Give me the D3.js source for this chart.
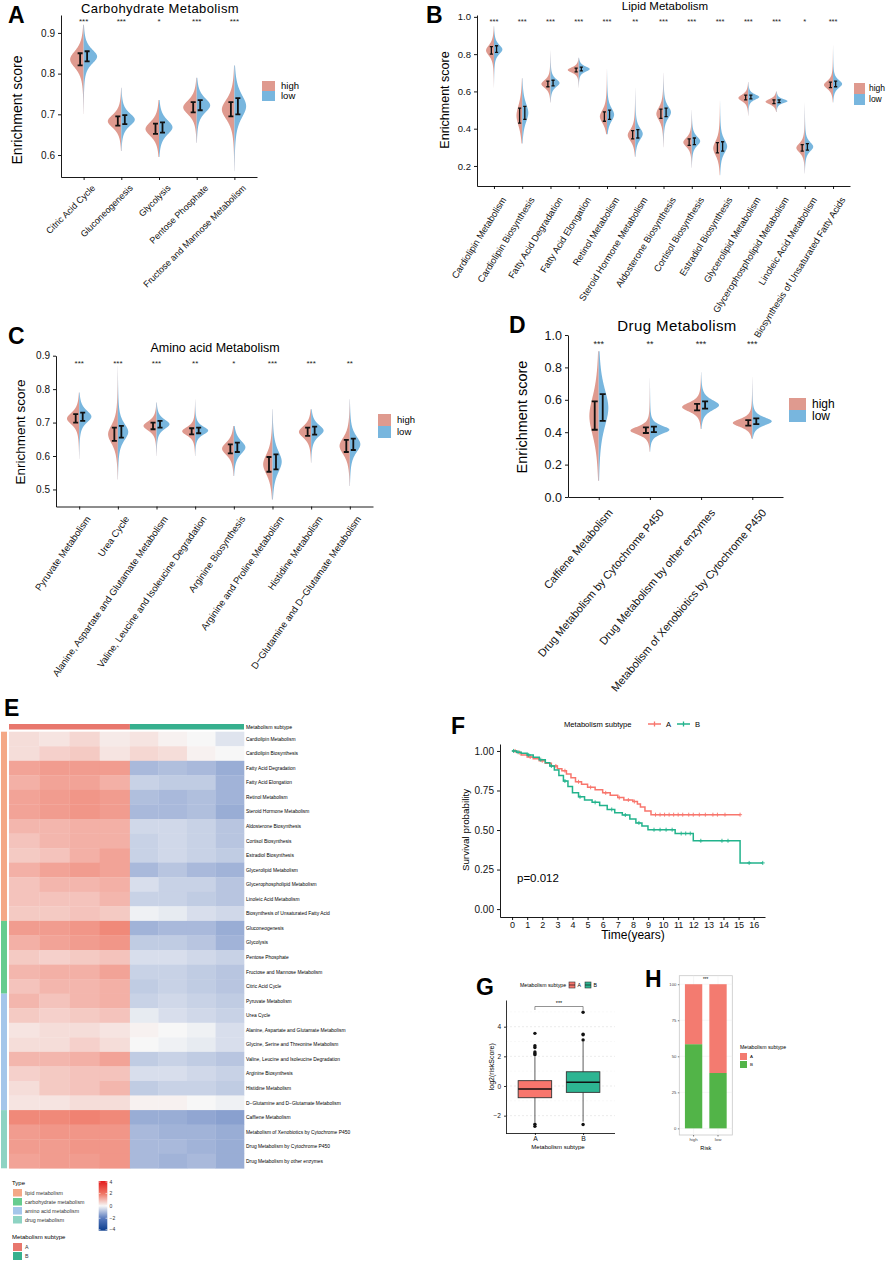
<!DOCTYPE html>
<html>
<head>
<meta charset="utf-8">
<script src="https://cdn.jsdelivr.net/npm/d3@7"></script>
<style>
  body { margin: 0; background: #fff; }
  svg { display: block; }
  text { font-family: "Liberation Sans", Arial, sans-serif; }
</style>
</head>
<body>
<div id="wrapper"></div>
<script>
// ---------- data: violin panels (A-D) ----------
// bars are [lower, middle, upper] of the error bar, tails are [min, max] of the violin
const carbCategories = ['Citric Acid Cycle', 'Gluconeogenesis', 'Glycolysis', 'Pentose Phosphate', 'Fructose and Mannose Metabolism']
const carbSig = ['***', '***', '*', '***', '***']
const carbHigh = [[0.82, 0.835, 0.85], [0.672, 0.683, 0.695], [0.652, 0.664, 0.677], [0.705, 0.717, 0.73], [0.695, 0.712, 0.73]]
const carbLow = [[0.83, 0.842, 0.855], [0.676, 0.687, 0.698], [0.655, 0.668, 0.68], [0.71, 0.722, 0.735], [0.70, 0.72, 0.74]]
const carbTails = [[0.70, 0.92], [0.61, 0.765], [0.595, 0.735], [0.63, 0.79], [0.56, 0.82]]

const lipidCategories = ['Cardiolipin Metabolism', 'Cardiolipin Biosynthesis', 'Fatty Acid Degradation', 'Fatty Acid Elongation',
  'Retinol Metabolism', 'Steroid Hormone Metabolism', 'Aldosterone Biosynthesis', 'Cortisol Biosynthesis',
  'Estradiol Biosynthesis', 'Glycerolipid Metabolism', 'Glycerophospholipid Metabolism', 'Linoleic Acid Metabolism',
  'Biosynthesis of Unsaturated Fatty Acids']
const lipidSig = ['***', '***', '***', '***', '***', '**', '***', '***', '***', '***', '***', '*', '***']
const lipidHigh = [[0.80, 0.82, 0.84], [0.43, 0.47, 0.51], [0.625, 0.64, 0.655], [0.705, 0.715, 0.725], [0.44, 0.465, 0.49],
  [0.345, 0.365, 0.39], [0.455, 0.48, 0.505], [0.31, 0.327, 0.345], [0.27, 0.295, 0.325], [0.555, 0.565, 0.58],
  [0.535, 0.545, 0.555], [0.28, 0.297, 0.315], [0.62, 0.635, 0.65]]
const lipidLow = [[0.81, 0.825, 0.845], [0.45, 0.485, 0.52], [0.63, 0.645, 0.66], [0.71, 0.72, 0.73], [0.45, 0.475, 0.50],
  [0.35, 0.372, 0.395], [0.465, 0.488, 0.51], [0.315, 0.333, 0.35], [0.28, 0.305, 0.33], [0.56, 0.57, 0.58],
  [0.54, 0.548, 0.555], [0.285, 0.303, 0.32], [0.625, 0.64, 0.655]]
const lipidTails = [[0.62, 0.95], [0.32, 0.67], [0.54, 0.82], [0.62, 0.78], [0.37, 0.72], [0.25, 0.62], [0.30, 0.70],
  [0.19, 0.50], [0.15, 0.55], [0.47, 0.65], [0.49, 0.60], [0.16, 0.54], [0.54, 0.85]]

const aminoCategories = ['Pyruvate Metabolism', 'Urea Cycle', 'Alanine, Aspartate and Glutamate Metabolism',
  'Valine, Leucine and Isoleucine Degradation', 'Arginine Biosynthesis', 'Arginine and Proline Metabolism',
  'Histidine Metabolism', 'D\u2212Glutamine and D\u2212Glutamate Metabolism']
const aminoSig = ['***', '***', '***', '**', '*', '***', '***', '**']
const aminoHigh = [[0.70, 0.712, 0.725], [0.645, 0.665, 0.685], [0.68, 0.69, 0.70], [0.665, 0.674, 0.683],
  [0.608, 0.622, 0.635], [0.553, 0.575, 0.597], [0.66, 0.672, 0.685], [0.612, 0.63, 0.648]]
const aminoLow = [[0.705, 0.718, 0.73], [0.655, 0.672, 0.69], [0.685, 0.695, 0.705], [0.668, 0.676, 0.685],
  [0.612, 0.626, 0.64], [0.56, 0.583, 0.605], [0.664, 0.676, 0.688], [0.618, 0.635, 0.652]]
const aminoTails = [[0.59, 0.79], [0.53, 0.87], [0.60, 0.76], [0.60, 0.77], [0.54, 0.69], [0.47, 0.74], [0.58, 0.74], [0.51, 0.77]]

const drugCategories = ['Caffiene Metabolism', 'Drug Metabolism by Cytochrome P450', 'Drug Metabolism by other enzymes',
  'Metabolism of Xenobiotics by Cytochrome P450']
const drugSig = ['***', '**', '***', '***']
const drugHigh = [[0.415, 0.50, 0.59], [0.395, 0.41, 0.43], [0.535, 0.555, 0.575], [0.44, 0.457, 0.475]]
const drugLow = [[0.47, 0.55, 0.635], [0.40, 0.415, 0.435], [0.545, 0.567, 0.59], [0.45, 0.467, 0.485]]
const drugTails = [[0.10, 0.90], [0.28, 0.75], [0.42, 0.77], [0.36, 0.75]]

// ---------- data: heatmap (E) ----------
const heatRows = ['Cardiolipin Metabolism', 'Cardiolipin Biosynthesis', 'Fatty Acid Degradation', 'Fatty Acid Elongation',
  'Retinol Metabolism', 'Steroid Hormone Metabolism', 'Aldosterone Biosynthesis', 'Cortisol Biosynthesis',
  'Estradiol Biosynthesis', 'Glycerolipid Metabolism', 'Glycerophospholipid Metabolism', 'Linoleic Acid Metabolism',
  'Biosynthesis of Unsaturated Fatty Acid', 'Gluconeogenesis', 'Glycolysis', 'Pentose Phosphate',
  'Fructose and Mannose Metabolism', 'Citric Acid Cycle', 'Pyruvate Metabolism', 'Urea Cycle',
  'Alanine, Aspartate and Glutamate Metabolism', 'Glycine, Serine and Threonine Metabolism',
  'Valine, Leucine and Isoleucine Degradation', 'Arginine Biosynthesis', 'Histidine Metabolism',
  'D\u2212Glutamine and D\u2212Glutamate Metabolism', 'Caffiene Metabolism', 'Metabolism of Xenobiotics by Cytochrome P450',
  'Drug Metabolism by Cytochrome P450', 'Drug Metabolism by other enzymes']
const heatTypes = ['lipid metabolism', 'carbohydrate metabolism', 'amino acid metabolism', 'drug metabolism']
const heatTypeCounts = [13, 5, 8, 4]
const heatSubtypes = ['A', 'B']
const heatSubtypeSamples = [212, 200]
// four blocks of samples per subtype, A blocks then B blocks
const heatValues = [
  [0.4, 0.3, 0.5, 0.2, 0.3, 0.1, 0.0, -0.3],
  [0.4, 0.6, 0.7, 0.3, 0.5, 0.4, 0.1, 0.0],
  [1.3, 1.4, 1.4, 1.4, -1.0, -0.9, -1.0, -1.2],
  [1.1, 1.3, 1.3, 1.1, -0.6, -0.7, -0.7, -1.1],
  [1.3, 1.4, 1.5, 1.4, -0.9, -1.0, -0.9, -1.1],
  [1.3, 1.4, 1.5, 1.4, -1.0, -1.0, -0.9, -1.2],
  [1.0, 1.0, 1.1, 1.1, -0.5, -0.5, -0.6, -0.8],
  [0.8, 1.0, 1.1, 1.1, -0.6, -0.5, -0.6, -0.8],
  [0.7, 0.8, 1.1, 1.3, -0.6, -0.5, -0.6, -0.7],
  [1.1, 1.3, 1.4, 1.3, -1.0, -0.8, -1.0, -1.1],
  [0.8, 1.0, 1.0, 1.1, -0.4, -0.6, -0.6, -0.8],
  [0.8, 0.8, 0.8, 1.0, -0.6, -0.6, -0.7, -0.8],
  [0.7, 0.7, 0.8, 0.7, -0.1, -0.2, -0.4, -0.5],
  [1.4, 1.4, 1.5, 1.7, -1.1, -1.0, -1.0, -1.2],
  [1.1, 1.3, 1.4, 1.5, -0.7, -0.7, -0.8, -1.1],
  [0.7, 0.6, 0.7, 0.8, -0.4, -0.4, -0.5, -0.6],
  [1.0, 1.1, 1.1, 1.3, -0.6, -0.6, -0.7, -0.8],
  [0.8, 1.0, 1.0, 1.1, -0.7, -0.6, -0.7, -0.8],
  [1.0, 0.8, 1.0, 1.1, -0.6, -0.5, -0.6, -0.7],
  [0.7, 0.6, 0.7, 0.8, -0.2, -0.4, -0.5, -0.6],
  [0.3, 0.4, 0.4, 0.3, 0.1, 0.0, -0.1, -0.4],
  [0.4, 0.4, 0.6, 0.4, 0.0, -0.1, -0.2, -0.4],
  [1.0, 1.0, 1.1, 1.3, -0.7, -0.6, -0.7, -0.8],
  [0.6, 0.7, 0.8, 0.8, -0.4, -0.4, -0.5, -0.6],
  [0.4, 0.7, 0.8, 1.0, -0.7, -0.6, -0.6, -0.7],
  [0.3, 0.3, 0.4, 0.4, 0.1, 0.1, 0.0, -0.1],
  [1.7, 1.7, 1.8, 1.7, -1.2, -1.2, -1.3, -1.4],
  [1.4, 1.5, 1.5, 1.5, -1.0, -1.1, -1.1, -1.2],
  [1.4, 1.4, 1.5, 1.5, -1.0, -1.0, -1.1, -1.2],
  [1.3, 1.4, 1.4, 1.5, -1.0, -1.1, -1.0, -1.2]
]
const heatLegendTicks = [4, 2, 0, -2, -4]

// ---------- data: survival (F) ----------
const survTimesA = [0, 0.3, 0.6, 1.0, 1.4, 1.8, 2.2, 2.6, 3.0, 3.3, 3.6, 3.9, 4.2, 4.6, 5.0, 5.5, 6.0, 6.5, 7.0, 7.4, 8.0, 8.3, 8.5, 8.8, 9.2]
const survA = [1.0, 0.99, 0.975, 0.962, 0.95, 0.938, 0.922, 0.905, 0.888, 0.875, 0.855, 0.83, 0.805, 0.79, 0.77, 0.755, 0.735, 0.72, 0.705, 0.69, 0.68, 0.665, 0.645, 0.62, 0.597]
const survEndA = 15.1
const censorA = [0.2, 0.5, 1.2, 2.0, 2.9, 3.5, 4.4, 5.2, 6.2, 7.1, 7.7, 8.1, 9.5, 9.8, 10.1, 10.4, 10.7, 11.0, 11.3, 11.7, 12.0, 12.4, 12.8, 13.3, 13.6, 14.1, 15.1]
const survTimesB = [0, 0.3, 0.6, 1.0, 1.4, 1.8, 2.2, 2.5, 2.8, 3.1, 3.4, 3.7, 4.0, 4.4, 4.8, 5.3, 5.8, 6.3, 6.8, 7.3, 7.8, 8.2, 8.6, 9.0, 10.8, 12.0, 15.1]
const survB = [1.0, 0.992, 0.985, 0.975, 0.96, 0.945, 0.925, 0.905, 0.88, 0.845, 0.81, 0.775, 0.735, 0.71, 0.69, 0.675, 0.655, 0.63, 0.61, 0.595, 0.57, 0.545, 0.525, 0.502, 0.478, 0.432, 0.292]
const survEndB = 16.6
const censorB = [0.1, 0.4, 1.1, 1.9, 2.6, 3.5, 4.5, 5.5, 6.6, 7.5, 8.4, 9.4, 9.8, 10.2, 10.6, 11.2, 11.5, 11.8, 12.5, 13.9, 14.3, 15.7, 16.6]
const survTicksX = d3.range(0, 17)
const survTicksY = [0, 0.25, 0.5, 0.75, 1.0]

// ---------- data: box plot (G) ----------
const boxGroups = ['A', 'B']
const boxQ1 = [-0.79, -0.43]
const boxMedian = [-0.2, 0.25]
const boxQ3 = [0.36, 0.96]
const boxWhiskerLo = [-2.45, -2.4]
const boxWhiskerHi = [1.95, 2.97]
const boxOutliers = [[3.55, 2.72, 2.6, 2.3, 2.2, 2.1, -2.58, -2.72], [4.97, 3.5, 3.45, 3.1, -2.6]]

// ---------- data: stacked bars (H) ----------
const riskGroups = ['high', 'low']
const riskShareB = [58.4, 38.4]
const riskShareA = [41.6, 61.6]

// ---------- drawing ----------
const HIGH = '#DF9A8F'
const LOW = '#78B6DE'
const SUB_A = '#F8766D'
const SUB_B = '#22B38C'
const NARROW = '"Liberation Sans Narrow", "Liberation Sans", Arial, sans-serif'

const svg = d3.select('#wrapper')
  .append('svg')
    .attr('width', 886)
    .attr('height', 1262)

function panelLetter(letter, x, y) {
  svg.append('text')
    .attr('x', x).attr('y', y)
    .attr('font-size', 23).attr('font-weight', 'bold')
    .text(letter)
}

function styleAxis(sel, size, lw = 0.9) {
  sel.select('.domain').attr('stroke', '#000').attr('stroke-width', lw)
  sel.selectAll('.tick line').attr('stroke', '#000').attr('stroke-width', lw)
  sel.selectAll('.tick text')
    .attr('font-size', size)
    .attr('fill', '#111')
    .attr('font-family', '"Liberation Sans", Arial, sans-serif')
}

function drawViolinPanel(c, categories, sig, highBars, lowBars, tails) {
  const g = svg.append('g')

  const x = d3.scalePoint()
    .domain(categories)
    .range([c.x0, c.x1])
    .padding(0.6)
  const y = d3.scaleLinear()
    .domain(c.domain)
    .range([c.y1, c.y0])

  categories.forEach((cat, i) => {
    const cx = x(cat)
    const [tMin, tMax] = tails[i]
    const halves = [[highBars[i], -1, HIGH], [lowBars[i], 1, LOW]]
    halves.forEach(([bar, side, color]) => {
      const [lo, mid, hi] = bar
      const spread = hi - lo
      const s = spread * 0.8
      const peak = c.wMax * Math.min(1, Math.sqrt(c.ref / spread))
      const halfWidth = v => {
        const z = (v - mid) / s
        const end = v < mid ? tMin : tMax
        const taper = Math.max(0, 1 - Math.abs(v - mid) / Math.abs(end - mid))
        return peak * Math.pow(1 + z * z / 3, -2) + 0.5 * taper
      }
      const samples = d3.range(0, 161).map(k => tMin + (tMax - tMin) * k / 160)
      const area = d3.area()
        .x0(cx)
        .x1(v => cx + side * halfWidth(v))
        .y(v => y(v))
      g.append('path')
        .attr('d', area(samples))
        .attr('fill', color)
    })

    halves.forEach(([bar, side]) => {
      const [lo, , hi] = bar
      const bx = cx + side * c.barOff
      const path = d3.path()
      path.moveTo(bx, y(lo)); path.lineTo(bx, y(hi))
      path.moveTo(bx - c.capW, y(lo)); path.lineTo(bx + c.capW, y(lo))
      path.moveTo(bx - c.capW, y(hi)); path.lineTo(bx + c.capW, y(hi))
      g.append('path')
        .attr('d', path.toString())
        .attr('stroke', '#111')
        .attr('stroke-width', c.barW)
        .attr('fill', 'none')
    })

    g.append('text')
      .attr('x', cx).attr('y', c.sigY)
      .attr('text-anchor', 'middle')
      .attr('font-size', c.sigSize)
      .attr('fill', '#222')
      .text(sig[i])
  })

  const yAxis = g.append('g')
    .attr('transform', `translate(${c.x0},0)`)
    .call(d3.axisLeft(y).tickValues(c.ticks).tickFormat(d3.format('.1f')).tickSize(3).tickSizeOuter(0).tickPadding(3))
  styleAxis(yAxis, c.tickSize)

  const xAxis = g.append('g')
    .attr('transform', `translate(0,${c.y1})`)
    .call(d3.axisBottom(x).tickSize(3).tickSizeOuter(0))
  styleAxis(xAxis, c.labelSize)
  xAxis.selectAll('.tick text')
    .attr('x', 0).attr('y', 0)
    .attr('dy', '0.72em')
    .attr('text-anchor', 'end')
    .attr('transform', `translate(${c.labelDx},${c.labelDy}) rotate(${-c.angle})`)

  g.append('text')
    .attr('transform', `translate(${c.ylabX},${c.ylabY}) rotate(-90)`)
    .attr('text-anchor', 'middle')
    .attr('font-family', NARROW)
    .attr('font-size', c.ylabSize)
    .text('Enrichment score')

  g.append('text')
    .attr('x', c.titleX).attr('y', c.titleY)
    .attr('text-anchor', 'middle')
    .attr('font-size', c.titleSize)
    .attr('letter-spacing', c.titleSpacing || 0)
    .text(c.title)

  const legend = g.append('g').attr('transform', `translate(${c.legX},${c.legY})`)
  ;[['high', HIGH], ['low', LOW]].forEach(([name, color], k) => {
    legend.append('rect')
      .attr('x', 0).attr('y', k * c.legH)
      .attr('width', c.legW).attr('height', c.legH)
      .attr('fill', color)
    legend.append('text')
      .attr('x', c.legW + c.legGap).attr('y', k * c.legH + c.legH / 2)
      .attr('dy', '0.35em')
      .attr('font-size', c.legSize)
      .text(name)
  })

  panelLetter(c.letter, c.letterX, c.letterY)
}

drawViolinPanel({
  x0: 61, x1: 257, y0: 15, y1: 177, domain: [0.546, 0.944], ticks: [0.6, 0.7, 0.8, 0.9], tickSize: 10,
  title: 'Carbohydrate Metabolism', titleX: 160, titleY: 12.5, titleSize: 13, titleSpacing: 0.4,
  sigY: 24, sigSize: 8, angle: 45, labelSize: 9, labelDx: 7, labelDy: 7,
  ylabX: 22, ylabY: 110, ylabSize: 14,
  legX: 262, legY: 81, legW: 13, legH: 10, legSize: 9.5, legGap: 6,
  wMax: 13, ref: 0.03, barOff: 3.5, capW: 2.5, barW: 1.8,
  letter: 'A', letterX: 8, letterY: 23
}, carbCategories, carbSig, carbHigh, carbLow, carbTails)

drawViolinPanel({
  x0: 477, x1: 850, y0: 15, y1: 186, domain: [0.0925, 1.01], ticks: [0.2, 0.4, 0.6, 0.8, 1.0], tickSize: 9.5,
  title: 'Lipid Metabolism', titleX: 665, titleY: 9.5, titleSize: 11.5,
  sigY: 24, sigSize: 7.5, angle: 58, labelSize: 9.3, labelDx: 6.5, labelDy: 10,
  ylabX: 449, ylabY: 100, ylabSize: 12.5,
  legX: 854, legY: 83, legW: 11, legH: 11, legSize: 8.5, legGap: 4,
  wMax: 10.5, ref: 0.02, barOff: 2.6, capW: 1.6, barW: 1.3,
  letter: 'B', letterX: 426, letterY: 23
}, lipidCategories, lipidSig, lipidHigh, lipidLow, lipidTails)

drawViolinPanel({
  x0: 56, x1: 373, y0: 355.7, y1: 506.5, domain: [0.449, 0.9], ticks: [0.5, 0.6, 0.7, 0.8, 0.9], tickSize: 10,
  title: 'Amino acid Metabolism', titleX: 215, titleY: 351.5, titleSize: 12.5,
  sigY: 366, sigSize: 8, angle: 55, labelSize: 9.5, labelDx: 5.7, labelDy: 8.5,
  ylabX: 25, ylabY: 432, ylabSize: 13.5,
  legX: 378, legY: 414, legW: 13, legH: 12, legSize: 9.5, legGap: 6,
  wMax: 12.5, ref: 0.022, barOff: 3.5, capW: 2.5, barW: 1.8,
  letter: 'C', letterX: 8, letterY: 344
}, aminoCategories, aminoSig, aminoHigh, aminoLow, aminoTails)

drawViolinPanel({
  x0: 568, x1: 783, y0: 335, y1: 497, domain: [0, 1.0], ticks: [0, 0.2, 0.4, 0.6, 0.8, 1.0], tickSize: 12.5,
  title: 'Drug Metabolism', titleX: 677, titleY: 331, titleSize: 15, titleSpacing: 0.4,
  sigY: 347, sigSize: 9, angle: 50, labelSize: 11, labelDx: 8, labelDy: 11,
  ylabX: 527, ylabY: 417, ylabSize: 14.5,
  legX: 789, legY: 398, legW: 17, legH: 12, legSize: 12, legGap: 6,
  wMax: 19, ref: 0.038, barOff: 4, capW: 3, barW: 1.8,
  letter: 'D', letterX: 509, letterY: 333
}, drugCategories, drugSig, drugHigh, drugLow, drugTails)

// ---------- E heatmap ----------
function drawHeatmap() {
  const g = svg.append('g')
  const totalSamples = d3.sum(heatSubtypeSamples)
  const x = d3.scaleLinear().domain([0, totalSamples]).range([9, 244])
  const y = d3.scaleBand().domain(d3.range(heatRows.length)).range([731.7, 1168.3])
  const color = d3.scaleLinear()
    .domain([-4, -2, 0, 2, 4])
    .range(['#0B3C8C', '#5A7BBE', '#F7F7F7', '#EF7563', '#E31A1C'])
    .clamp(true)
  const typeColor = d3.scaleOrdinal().domain(heatTypes).range(['#F4A886', '#66CC8F', '#A4C6EA', '#8ED3C3'])
  const subColor = d3.scaleOrdinal().domain(heatSubtypes).range(['#E8776D', '#36B08E'])

  const blocks = []
  heatSubtypes.forEach((sub, si) => {
    const start = d3.sum(heatSubtypeSamples.slice(0, si))
    const per = heatSubtypeSamples[si] / 4
    for (let k = 0; k < 4; k++) blocks.push({ s0: start + k * per, s1: start + (k + 1) * per })
  })

  heatValues.forEach((row, r) => {
    row.forEach((v, k) => {
      g.append('rect')
        .attr('x', x(blocks[k].s0)).attr('y', y(r))
        .attr('width', x(blocks[k].s1) - x(blocks[k].s0) + 0.3)
        .attr('height', y.bandwidth() + 0.3)
        .attr('fill', color(v))
    })
    g.append('text')
      .attr('x', 246).attr('y', y(r) + y.bandwidth() / 2)
      .attr('dy', '0.35em')
      .attr('font-size', 4.9)
      .text(heatRows[r])
  })

  // top annotation
  heatSubtypes.forEach((sub, si) => {
    const start = d3.sum(heatSubtypeSamples.slice(0, si))
    g.append('rect')
      .attr('x', x(start)).attr('y', 724)
      .attr('width', x(start + heatSubtypeSamples[si]) - x(start))
      .attr('height', 5.5)
      .attr('fill', subColor(sub))
  })
  g.append('text')
    .attr('x', 246).attr('y', 727)
    .attr('dy', '0.35em')
    .attr('font-size', 5.2)
    .text('Metabolism subtype')

  // row type bar
  let rowStart = 0
  heatTypes.forEach((t, ti) => {
    g.append('rect')
      .attr('x', 1).attr('y', y(rowStart))
      .attr('width', 6)
      .attr('height', y.step() * heatTypeCounts[ti])
      .attr('fill', typeColor(t))
    rowStart += heatTypeCounts[ti]
  })

  // legends
  g.append('text').attr('x', 12).attr('y', 1185).attr('font-size', 6).text('Type')
  heatTypes.forEach((t, ti) => {
    g.append('rect')
      .attr('x', 13).attr('y', 1189 + ti * 9)
      .attr('width', 9).attr('height', 7.5)
      .attr('fill', typeColor(t))
    g.append('text')
      .attr('x', 25).attr('y', 1189 + ti * 9 + 3.8)
      .attr('dy', '0.35em')
      .attr('font-size', 5.3)
      .attr('fill', '#333')
      .text(t)
  })

  const defs = svg.append('defs')
  const grad = defs.append('linearGradient')
    .attr('id', 'heatGrad')
    .attr('x1', 0).attr('y1', 0).attr('x2', 0).attr('y2', 1)
  const yl = d3.scaleLinear().domain([4, -4]).range([1181, 1230.7])
  d3.range(4, -4.01, -0.5).forEach(v => {
    grad.append('stop')
      .attr('offset', (yl(v) - 1181) / (1230.7 - 1181))
      .attr('stop-color', color(v))
  })
  g.append('rect')
    .attr('x', 98.7).attr('y', 1181)
    .attr('width', 8.6).attr('height', 1230.7 - 1181)
    .attr('fill', 'url(#heatGrad)')
  heatLegendTicks.forEach(v => {
    const ty = yl(v) + (v === 4 ? 1 : v === -4 ? -1 : 0)
    g.append('line')
      .attr('x1', 98.7).attr('x2', 100.5)
      .attr('y1', ty).attr('y2', ty)
      .attr('stroke', '#fff').attr('stroke-width', 0.6)
    g.append('line')
      .attr('x1', 105.5).attr('x2', 107.3)
      .attr('y1', ty).attr('y2', ty)
      .attr('stroke', '#fff').attr('stroke-width', 0.6)
    g.append('text')
      .attr('x', 109.5).attr('y', ty)
      .attr('dy', '0.35em')
      .attr('font-size', 5)
      .attr('fill', '#333')
      .text(d3.format('d')(v))
  })

  g.append('text').attr('x', 12).attr('y', 1239).attr('font-size', 6).text('Metabolism subtype')
  heatSubtypes.forEach((sub, si) => {
    g.append('rect')
      .attr('x', 13).attr('y', 1243 + si * 9)
      .attr('width', 9).attr('height', 8)
      .attr('fill', subColor(sub))
    g.append('text')
      .attr('x', 25).attr('y', 1243 + si * 9 + 4)
      .attr('dy', '0.35em')
      .attr('font-size', 5.3)
      .attr('fill', '#333')
      .text(sub)
  })

  panelLetter('E', 4, 716)
}
drawHeatmap()

// ---------- F survival ----------
function drawSurvival() {
  const g = svg.append('g')
  const x = d3.scaleLinear().domain([-0.8, 16.75]).range([500, 765])
  const y = d3.scaleLinear().domain([-0.05, 1.044]).range([917, 744])

  const curves = [
    { times: survTimesA, vals: survA, end: survEndA, censor: censorA, color: SUB_A },
    { times: survTimesB, vals: survB, end: survEndB, censor: censorB, color: SUB_B }
  ]
  const line = d3.line().curve(d3.curveStepAfter).x(d => x(d[0])).y(d => y(d[1]))

  curves.forEach(c => {
    const pts = c.times.map((t, i) => [t, c.vals[i]])
    pts.push([c.end, c.vals[c.vals.length - 1]])
    g.append('path')
      .attr('d', line(pts))
      .attr('fill', 'none')
      .attr('stroke', c.color)
      .attr('stroke-width', 1.5)
    c.censor.forEach(t => {
      const v = c.vals[d3.bisectRight(c.times, t) - 1]
      g.append('path')
        .attr('d', `M${x(t) - 2},${y(v)}h4M${x(t)},${y(v) - 2}v4`)
        .attr('stroke', c.color)
        .attr('stroke-width', 0.9)
    })
  })

  const yAxis = g.append('g')
    .attr('transform', 'translate(500,0)')
    .call(d3.axisLeft(y).tickValues(survTicksY).tickFormat(d3.format('.2f')).tickSize(3).tickSizeOuter(0).tickPadding(3))
  styleAxis(yAxis, 10)
  const xAxis = g.append('g')
    .attr('transform', 'translate(0,917)')
    .call(d3.axisBottom(x).tickValues(survTicksX).tickFormat(d3.format('d')).tickSize(3).tickSizeOuter(0).tickPadding(2))
  styleAxis(xAxis, 9)

  g.append('text')
    .attr('x', 633).attr('y', 939)
    .attr('text-anchor', 'middle')
    .attr('font-size', 12)
    .text('Time(years)')
  g.append('text')
    .attr('transform', 'translate(469,830) rotate(-90)')
    .attr('text-anchor', 'middle')
    .attr('font-size', 9.8)
    .text('Survival probability')
  g.append('text')
    .attr('x', 517).attr('y', 882)
    .attr('font-size', 11.5)
    .text('p=0.012')

  // legend
  g.append('text')
    .attr('x', 564).attr('y', 724)
    .attr('dy', '0.35em')
    .attr('font-size', 7.6)
    .text('Metabolism subtype')
  ;[['A', SUB_A, 648], ['B', SUB_B, 677]].forEach(([name, color, lx]) => {
    g.append('path')
      .attr('d', `M${lx},724h13M${lx + 6.5},721.5v5`)
      .attr('stroke', color)
      .attr('stroke-width', 1.3)
    g.append('text')
      .attr('x', lx + 18).attr('y', 724)
      .attr('dy', '0.35em')
      .attr('font-size', 7.6)
      .text(name)
  })

  panelLetter('F', 451, 734)
}
drawSurvival()

// ---------- G box plot ----------
function drawBox() {
  const g = svg.append('g')
  const x = d3.scalePoint().domain(boxGroups).range([506, 612]).padding(0.6)
  const y = d3.scaleLinear().domain([-3.17, 5.8]).range([1133, 1000])
  const fills = [SUB_A, '#2DB592']
  const boxW = 33.5

  ;[-2, 0, 2, 4].forEach(v => {
    g.append('line')
      .attr('x1', 506).attr('x2', 615)
      .attr('y1', y(v)).attr('y2', y(v))
      .attr('stroke', '#d9d9d9').attr('stroke-width', 0.5)
      .attr('stroke-dasharray', '2,2')
  })
  ;[-1, 1, 3, 5].forEach(v => {
    g.append('line')
      .attr('x1', 506).attr('x2', 615)
      .attr('y1', y(v)).attr('y2', y(v))
      .attr('stroke', '#eeeeee').attr('stroke-width', 0.4)
      .attr('stroke-dasharray', '2,2')
  })

  boxGroups.forEach((grp, i) => {
    const cx = x(grp)
    g.append('line')
      .attr('x1', cx).attr('x2', cx)
      .attr('y1', y(boxWhiskerLo[i])).attr('y2', y(boxWhiskerHi[i]))
      .attr('stroke', '#333').attr('stroke-width', 0.8)
    g.append('rect')
      .attr('x', cx - boxW / 2).attr('y', y(boxQ3[i]))
      .attr('width', boxW).attr('height', y(boxQ1[i]) - y(boxQ3[i]))
      .attr('fill', fills[i])
      .attr('stroke', '#333').attr('stroke-width', 0.9)
    g.append('line')
      .attr('x1', cx - boxW / 2).attr('x2', cx + boxW / 2)
      .attr('y1', y(boxMedian[i])).attr('y2', y(boxMedian[i]))
      .attr('stroke', '#111').attr('stroke-width', 1.6)
    boxOutliers[i].forEach(v => {
      g.append('circle')
        .attr('cx', cx).attr('cy', y(v)).attr('r', 1.7)
        .attr('fill', '#111')
    })
  })

  // significance bracket
  const by = 1006.5
  g.append('path')
    .attr('d', `M${x('A')},${by + 3.5}V${by}H${x('B')}V${by + 3.5}`)
    .attr('fill', 'none').attr('stroke', '#666').attr('stroke-width', 0.7)
  g.append('text')
    .attr('x', (x('A') + x('B')) / 2).attr('y', by - 1.5)
    .attr('text-anchor', 'middle')
    .attr('font-size', 5.5)
    .text('***')

  const yAxis = g.append('g')
    .attr('transform', 'translate(506,0)')
    .call(d3.axisLeft(y).tickValues([-2, 0, 2, 4]).tickFormat(d3.format('d')).tickSize(2).tickSizeOuter(0).tickPadding(3))
  styleAxis(yAxis, 6.5, 0.8)
  const xAxis = g.append('g')
    .attr('transform', 'translate(0,1133)')
    .call(d3.axisBottom(x).tickSize(2).tickSizeOuter(0).tickPadding(1.5))
  xAxis.select('.domain').attr('d', 'M506,0.5H615')
  styleAxis(xAxis, 6.8, 0.8)

  g.append('text')
    .attr('transform', 'translate(494,1066.7) rotate(-90)')
    .attr('text-anchor', 'middle')
    .attr('font-size', 7)
    .text('log2(riskScore)')
  g.append('text')
    .attr('x', 558).attr('y', 1149)
    .attr('text-anchor', 'middle')
    .attr('font-size', 6)
    .text('Metabolism subtype')

  // legend
  g.append('text')
    .attr('x', 520).attr('y', 985)
    .attr('dy', '0.35em')
    .attr('font-size', 5.2)
    .text('Metabolism subtype')
  boxGroups.forEach((grp, i) => {
    const lx = 569 + i * 16
    g.append('rect')
      .attr('x', lx).attr('y', 982).attr('width', 6).attr('height', 6)
      .attr('fill', fills[i]).attr('stroke', '#333').attr('stroke-width', 0.6)
    g.append('line')
      .attr('x1', lx).attr('x2', lx + 6).attr('y1', 985).attr('y2', 985)
      .attr('stroke', '#111').attr('stroke-width', 0.7)
    g.append('text')
      .attr('x', lx + 8.5).attr('y', 985)
      .attr('dy', '0.35em')
      .attr('font-size', 5.2)
      .text(grp)
  })

  panelLetter('G', 476, 995)
}
drawBox()

// ---------- H stacked bars ----------
function drawStacked() {
  const g = svg.append('g')
  const x = d3.scaleBand().domain(riskGroups).range([679.3, 732.3]).paddingInner(0.29).paddingOuter(0.23)
  const y = d3.scaleLinear().domain([-4.6, 105.9]).range([1135, 975.7])

  g.append('rect')
    .attr('x', 679.3).attr('y', 975.7)
    .attr('width', 53).attr('height', 1135 - 975.7)
    .attr('fill', '#fff').attr('stroke', '#c8c8c8').attr('stroke-width', 0.8)
  ;[0, 25, 50, 75, 100].forEach(v => {
    g.append('line')
      .attr('x1', 679.3).attr('x2', 732.3).attr('y1', y(v)).attr('y2', y(v))
      .attr('stroke', '#ececec').attr('stroke-width', 0.5)
  })
  riskGroups.forEach(r => {
    g.append('line')
      .attr('x1', x(r) + x.bandwidth() / 2).attr('x2', x(r) + x.bandwidth() / 2)
      .attr('y1', 975.7).attr('y2', 1135)
      .attr('stroke', '#ececec').attr('stroke-width', 0.5)
  })

  riskGroups.forEach((r, i) => {
    g.append('rect')
      .attr('x', x(r)).attr('y', y(riskShareB[i]))
      .attr('width', x.bandwidth()).attr('height', y(0) - y(riskShareB[i]))
      .attr('fill', '#52B448')
    g.append('rect')
      .attr('x', x(r)).attr('y', y(riskShareB[i] + riskShareA[i]))
      .attr('width', x.bandwidth()).attr('height', y(riskShareB[i]) - y(riskShareB[i] + riskShareA[i]))
      .attr('fill', '#F37B70')
  })

  g.append('text')
    .attr('x', 705.7).attr('y', 981)
    .attr('text-anchor', 'middle')
    .attr('font-size', 4.5)
    .text('***')

  const yAxis = g.append('g')
    .attr('transform', 'translate(679.3,0)')
    .call(d3.axisLeft(y).tickValues([0, 25, 50, 75, 100]).tickSize(1.5).tickPadding(1.5))
  yAxis.select('.domain').remove()
  styleAxis(yAxis, 4.2, 0.5)
  yAxis.selectAll('.tick text').attr('fill', '#444')
  const xAxis = g.append('g')
    .attr('transform', 'translate(0,1135)')
    .call(d3.axisBottom(x).tickSize(1.5).tickPadding(1.5))
  xAxis.select('.domain').remove()
  styleAxis(xAxis, 4.4, 0.5)
  xAxis.selectAll('.tick text').attr('fill', '#444')

  g.append('text')
    .attr('x', 705.8).attr('y', 1150)
    .attr('text-anchor', 'middle')
    .attr('font-size', 5.6)
    .text('Risk')

  g.append('text')
    .attr('x', 740).attr('y', 1047.5)
    .attr('dy', '0.35em')
    .attr('font-size', 5.2)
    .text('Metabolism subtype')
  ;[['A', '#F37B70'], ['B', '#52B448']].forEach(([name, color], k) => {
    g.append('rect')
      .attr('x', 740).attr('y', 1053 + k * 8)
      .attr('width', 7).attr('height', 7)
      .attr('fill', color)
    g.append('text')
      .attr('x', 750).attr('y', 1056.5 + k * 8)
      .attr('dy', '0.35em')
      .attr('font-size', 4.4)
      .text(name)
  })

  panelLetter('H', 645, 987)
}
drawStacked()
</script>
</body>
</html>
